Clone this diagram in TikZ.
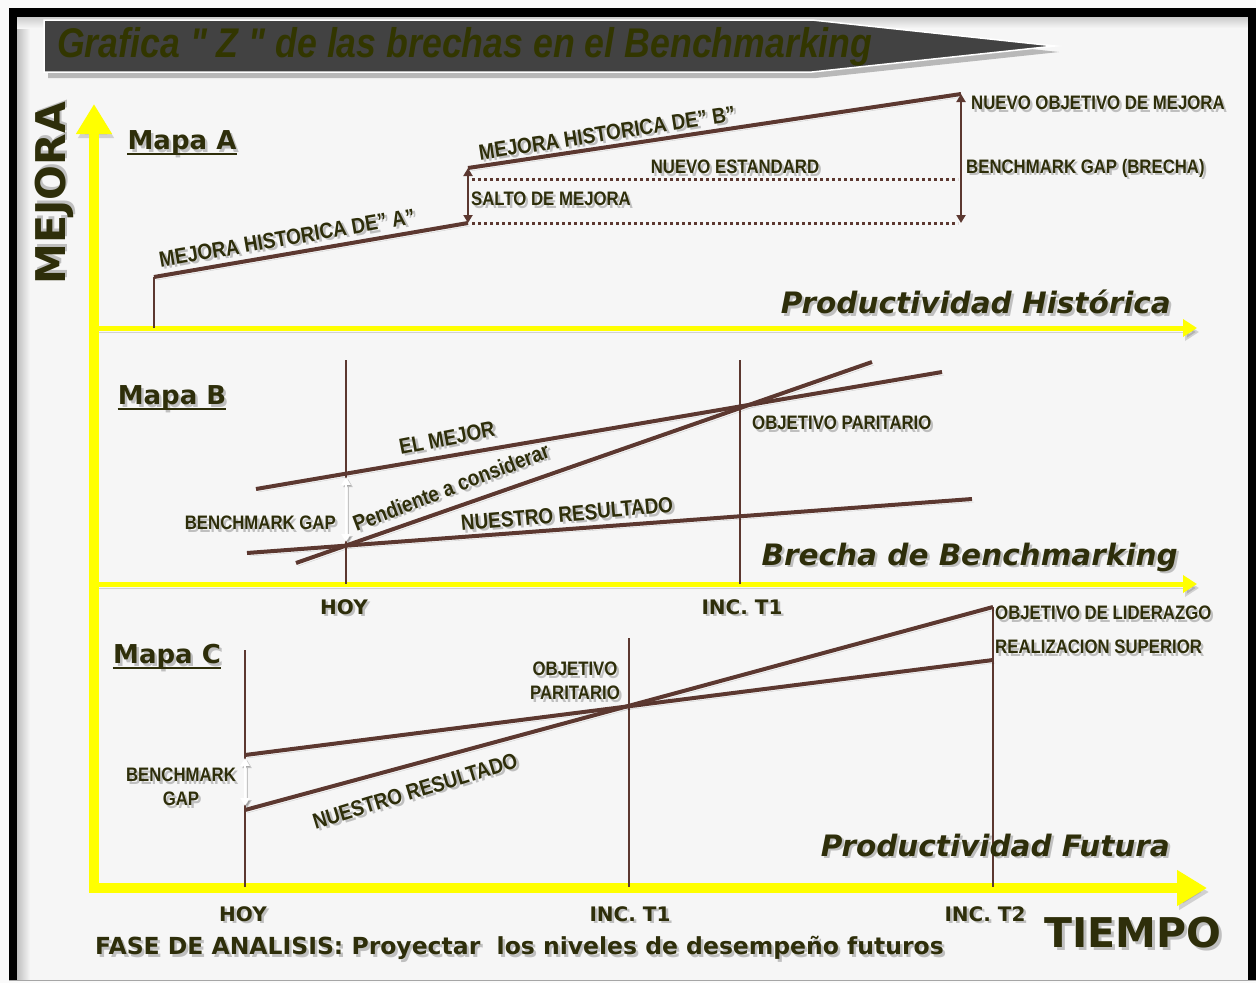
\documentclass[tikz,border=0pt]{standalone}
\usepackage{fontspec}
\setmainfont{DejaVu Sans}
\newfontfamily\narrowfont[FakeStretch=0.86]{Liberation Sans}
\usetikzlibrary{arrows.meta}
\definecolor{bg}{RGB}{246,246,246}
\definecolor{txt}{RGB}{46,46,10}
\definecolor{brn}{RGB}{92,56,48}
\definecolor{ylw}{RGB}{255,255,0}
\definecolor{bannerc}{RGB}{66,66,66}
\definecolor{ttl}{RGB}{50,54,0}
\newcommand\stx[3]{%
  \node[#1, text=black, opacity=0.22, xshift=2.5pt, yshift=-2.5pt] at #2 {#3};
  \node[#1] at #2 {#3};}
\tikzset{
  base/.style={text=txt, inner sep=0pt},
  lbl/.style={base, font=\narrowfont\bfseries\fontsize{19.5}{24}\selectfont},
  lblbig/.style={base, font=\narrowfont\bfseries\fontsize{22}{26}\selectfont},
  mapa/.style={base, font=\bfseries\fontsize{26}{30}\selectfont},
  axlbl/.style={base, font=\bfseries\itshape\fontsize{29.5}{34}\selectfont},
  ticklbl/.style={base, font=\bfseries\fontsize{20}{24}\selectfont},
  shd/.style={preaction={draw=black, opacity=.16, transform canvas={shift={(2pt,-3pt)}}}},
  brline/.style={draw=brn, line width=4pt, shd},
  thinline/.style={draw=brn, line width=1.3pt},
  dotline/.style={draw=brn, line width=3pt, dash pattern=on 3pt off 3pt},
  gaparrow/.style={draw=brn, line width=2.5pt, {Triangle[width=9pt,length=8pt]}-{Triangle[width=9pt,length=8pt]}},
  whitearrow/.style={draw=white, line width=2.5pt, {Triangle[width=9pt,length=8pt]}-{Triangle[width=9pt,length=8pt]},
     preaction={draw=black, opacity=.2, transform canvas={shift={(2pt,-2pt)}}}},
  yaxis/.style={draw=ylw, preaction={draw=black, opacity=.15, transform canvas={shift={(2pt,-4pt)}}}},
}
\begin{document}
\begin{tikzpicture}[x=1pt,y=-1pt]
\useasboundingbox (0,0) rectangle (1256,983);
\fill[white!98!black] (0,0) rectangle (1256,983);
\fill[bg] (17,17) rectangle (1248,980);
% inner frame shading
\shade[left color=black!25, right color=bg] (17,17) rectangle (30,980);
\shade[top color=black!20, bottom color=bg] (17,17) rectangle (1248,28);
% frame
\fill[black] (9,8) rectangle (1256,17);
\fill[black] (9,8) rectangle (17,980);
\fill[black] (1248,8) rectangle (1256,980);
\draw[black!35, line width=1pt] (9,980) -- (1256,980);
% title banner
\fill[black, opacity=.25] (48,26) -- (816,26) -- (1059,52) -- (816,78) -- (48,78) -- cycle;
\draw[white, line width=1.5pt, fill=bannerc] (44,20) -- (812,20) -- (1055,46) -- (812,72) -- (44,72) -- cycle;
\node[name=title, anchor=west, inner sep=0pt, text=ttl, font=\narrowfont\bfseries\itshape\fontsize{41.5}{44}\selectfont] at (57,47) {Grafica " Z " de las brechas en el Benchmarking};
% axes
\draw[yaxis, line width=5pt, -{Triangle[width=17pt,length=14pt]}] (94,328) -- (1197,328);
\draw[yaxis, line width=5pt, -{Triangle[width=17pt,length=14pt]}] (94,584) -- (1197,584);
\draw[yaxis, line width=10pt, {Triangle[width=34pt,length=30pt]}-{Triangle[width=34pt,length=30pt]}] (94,104) -- (94,888) -- (1207,888);
\stx{base, name=mejora, rotate=90, font=\bfseries\fontsize{41}{44}\selectfont}{(54,193)}{MEJORA}
\stx{base, name=tiempo, font=\bfseries\fontsize{41}{44}\selectfont}{(1133,933)}{TIEMPO}
% ---------- Mapa A ----------
\stx{mapa, name=mapaA}{(182,143)}{Mapa A}
\draw[txt, line width=2.5pt] ([yshift=-4pt]mapaA.base west) -- ([yshift=-4pt]mapaA.base east);
\coordinate (a0) at (154,328);
\coordinate (a1) at (154,277);
\coordinate (a2) at (468,223);
\coordinate (a3) at (468,168);
\coordinate (a4) at (961,94);
\coordinate (a5) at (961,223);
\coordinate (d1) at (472,179);
\coordinate (d2) at (958,179);
\coordinate (d3) at (472,223);
\coordinate (d4) at (958,223);
\draw[thinline] (a0) -- (a1);
\draw[brline] (a1) -- (a2);
\draw[brline] (a3) -- (a4);
\draw[dotline] (d1) -- (d2);
\draw[dotline] (d3) -- (d4);
\draw[gaparrow] (a3) -- (a2);
\draw[gaparrow] (a4) -- (a5);
\stx{lblbig, name=mhA, rotate=9.8}{(287,238)}{MEJORA HISTORICA DE” A”}
\stx{lblbig, name=mhB, rotate=8.8}{(607,133)}{MEJORA HISTORICA DE” B”}
\stx{lbl, name=nest}{(735,167)}{NUEVO ESTANDARD}
\stx{lbl, name=salto, anchor=west}{(471,199)}{SALTO DE MEJORA}
\stx{lbl, name=nobj, anchor=west}{(971,103)}{NUEVO OBJETIVO DE MEJORA}
\stx{lbl, name=bgapA, anchor=west}{(966,168)}{BENCHMARK GAP (BRECHA)}
\stx{axlbl, name=prodH, anchor=east}{(1171,302)}{Productividad Histórica}
% ---------- Mapa B ----------
\stx{mapa, name=mapaB}{(172,398)}{Mapa B}
\draw[txt, line width=2.5pt] ([yshift=-4pt]mapaB.base west) -- ([yshift=-4pt]mapaB.base east);
\coordinate (bh1) at (346,360);
\coordinate (bh2) at (346,584);
\coordinate (bt1) at (740,360);
\coordinate (bt2) at (740,584);
\draw[thinline] (bh1) -- (bh2);
\draw[thinline] (bt1) -- (bt2);
\coordinate (em1) at (256,489);
\coordinate (em2) at (942,372);
\coordinate (pc1) at (296,563);
\coordinate (pc2) at (872,362);
\coordinate (nr1) at (247,553);
\coordinate (nr2) at (972,499);
\draw[brline] (em1) -- (em2);
\draw[brline] (pc1) -- (pc2);
\draw[brline] (nr1) -- (nr2);
\coordinate (bw1) at (346,477);
\coordinate (bw2) at (346,542);
\draw[whitearrow] (bw1) -- (bw2);
\stx{lblbig, name=elmejor, rotate=11}{(447,438)}{EL MEJOR}
\stx{lblbig, name=pend, rotate=21}{(451,487)}{Pendiente a considerar}
\stx{lblbig, name=nresB, rotate=5}{(567,514)}{NUESTRO RESULTADO}
\stx{lbl, name=bgapB, anchor=east}{(336,523)}{BENCHMARK GAP}
\stx{lbl, name=objparB, anchor=west}{(752,423)}{OBJETIVO PARITARIO}
\stx{axlbl, name=brecha, anchor=east}{(1178,557)}{Brecha de Benchmarking}
\stx{ticklbl, name=hoyB}{(344,607)}{HOY}
\stx{ticklbl, name=t1B}{(742,607)}{INC. T1}
% ---------- Mapa C ----------
\stx{mapa, name=mapaC}{(167,657)}{Mapa C}
\draw[txt, line width=2.5pt] ([yshift=-4pt]mapaC.base west) -- ([yshift=-4pt]mapaC.base east);
\coordinate (ch1) at (245,650);
\coordinate (ch2) at (245,887);
\coordinate (ct1) at (629,638);
\coordinate (ct2) at (629,887);
\coordinate (cu1) at (993,607);
\coordinate (cu2) at (993,887);
\draw[thinline] (ch1) -- (ch2);
\draw[thinline] (ct1) -- (ct2);
\draw[thinline] (cu1) -- (cu2);
\coordinate (up1) at (245,755);
\coordinate (up2) at (993,660);
\coordinate (lo1) at (245,810);
\coordinate (lo2) at (993,607);
\draw[brline] (up1) -- (up2);
\draw[brline] (lo1) -- (lo2);
\coordinate (cw1) at (245,758);
\coordinate (cw2) at (245,806);
\draw[whitearrow] (cw1) -- (cw2);
\stx{lbl, name=bgapC, align=center}{(181,787)}{BENCHMARK\\GAP}
\stx{lbl, name=objparC, align=center}{(575,681)}{OBJETIVO\\PARITARIO}
\stx{lblbig, name=nresC, rotate=17}{(415,791)}{NUESTRO RESULTADO}
\stx{lbl, name=objlid, anchor=west}{(995,613)}{OBJETIVO DE LIDERAZGO}
\stx{lbl, name=realsup, anchor=west}{(995,647)}{REALIZACION SUPERIOR}
\stx{axlbl, name=prodF, anchor=east}{(1170,845)}{Productividad Futura}
\stx{ticklbl, name=hoyC}{(243,914)}{HOY}
\stx{ticklbl, name=t1C}{(630,914)}{INC. T1}
\stx{ticklbl, name=t2C}{(985,914)}{INC. T2}
\stx{base, name=fase, anchor=west, font=\bfseries\fontsize{23.5}{26}\selectfont}{(95,948)}{FASE DE ANALISIS: Proyectar\ \ los niveles de desempeño futuros}
\end{tikzpicture}
\end{document}
